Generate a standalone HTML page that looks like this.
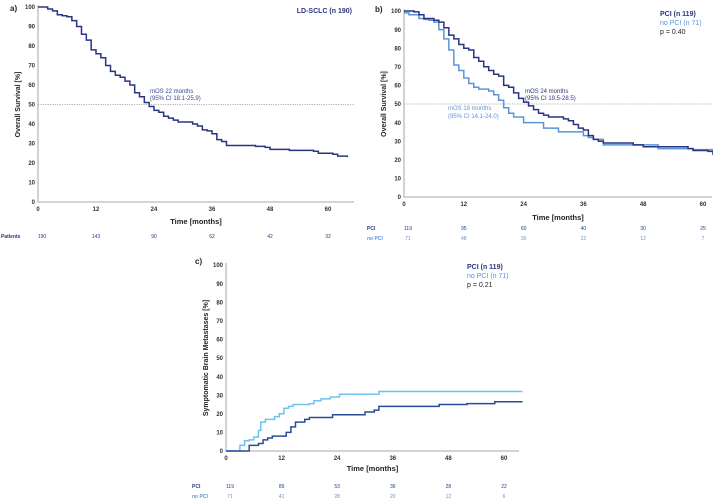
<!DOCTYPE html>
<html><head><meta charset="utf-8"><style>
body{margin:0;background:#fff}
svg{display:block;font-family:"Liberation Sans",Arial,sans-serif}
</style></head><body>
<svg id="c" width="713" height="499" viewBox="0 0 713 499"></svg>
<script>
const xTicks=[0,12,24,36,48,60];
const yTicks=[0,10,20,30,40,50,60,70,80,90,100];
// panel a
const aT=[0,2,3,4,5,6,7,8,9,10,11,12,13,14,15,16,17,18,19,20,21,22,23,24,25,26,27,28,29,31,32,33,34,35,36,37,38,39,44,45,47,48,52,57,58,61,62,64];
const aV=[100,99,98,96,95.5,95,93,90,86,83,78,76,74,70,67,65,64,62,60,56,54,51,49,47,46,44,43,42,41,41,40,39,37,36.5,35,32,31,29,29,28.5,28,27,26.5,26,25,24.5,23.5,23];
const aRisk=["190","143","90","62","42","32"];
// panel b
const bPciT=[0,2,3,4,6,7,8,9,10,11,12,13,14,15,16,17,18,19,20,21,22,23,24,25,26,27,28,29,31,32,33,34,35,36,37,38,39,40,45,46,48,56,57,58,61,62,64];
const bPciV=[100,99.5,98,96,95,94,91,87,85,82,80,79,75,73,70,68,66,65,60,59,56,53,51,49,47,45,44,43,43,42,41,39,37,36,33,31,30,29,29,28,27,27,26,25,24.5,23,22.5];
const bNoT=[0,1,3,4,5,6,7,8,9,10,11,12,13,14,15,17,18,19,20,21,22,24,28,31,35,36,37,38,40,50,51,58,64];
const bNoV=[99,98,96,95.5,95,94,90,85,79,71,68,64,61,59,58,57,55,52,48,45,43,40,37,35,35,33,32,31,28,28,26,25.5,25.5];
const bRiskPci=["119","95","60","40","30","25"];
const bRiskNo=["71","48","30","22","12","7"];
// panel c
const cPciT=[0,5,7,8,9,10,13,14,15,17,18,23,30,32,33,46,52,58,64];
const cPciV=[0,3,4,6,7,8,10,13,15.5,17,18,19.5,21,22,24,25,25.5,26.5,26.5];
const cNoT=[0,3,4,5,6,7,7.5,8.5,10.5,11.5,12.5,13.5,14.5,18,19,20.5,22.5,24.5,33,64];
const cNoV=[0,3,5.5,6,7.5,11,15.5,17,18.5,20,23,24,25,25.5,27,28,29,30.5,32,32];
const cRiskPci=["119","89","53","36","28","22"];
const cRiskNo=["71","41","28","20","12","6"];

const NS="http://www.w3.org/2000/svg";
const svg=document.getElementById('c');
function el(tag,attrs,parent,text){const e=document.createElementNS(NS,tag);for(const k in attrs)e.setAttribute(k,attrs[k]);if(text!==undefined)e.textContent=text;(parent||svg).appendChild(e);return e;}

function panel(p){
  const g=el('g',{});
  
  
  const X=t=>p.x0+t*p.sx, Y=v=>p.y0-v*p.sy;
  const lab=el('text',{x:p.lx,y:p.ly,'font-size':8,'font-weight':'bold',fill:'#222'},g,p.letter);
  
  const ax=el('path',{d:`M${p.x0},${Y(100)-2}V${p.y0}H${p.xEnd}`,stroke:'#bbb','stroke-width':1.3,fill:'none'},g);
  
  yTicks.forEach(v=>{const t=el('text',{x:p.x0-3,y:Y(v)+2.2,'font-size':6,'font-weight':'bold',fill:'#333','text-anchor':'end'},g,v);
    });
  xTicks.forEach(v=>{const t=el('text',{x:X(v),y:p.y0+9,'font-size':6,'font-weight':'bold',fill:'#333','text-anchor':'middle'},g,v);
    });
  const yt=el('text',{x:0,y:0,'font-size':7,'font-weight':'bold',fill:'#222','text-anchor':'middle',transform:`translate(${p.x0-18},${Y(50)}) rotate(-90)`},g,p.ytitle);
  
  const xt=el('text',{x:(p.x0+p.xEnd)/2,y:p.xty,'font-size':7.5,'font-weight':'bold',fill:'#222','text-anchor':'middle'},g,'Time [months]');
  
  if(p.median){const m=el('line',{x1:p.x0,x2:p.xEnd,y1:Y(50),y2:Y(50),stroke:'#999','stroke-width':0.8,'stroke-dasharray':'1.2,1.2'},g);
    }
  p.series.forEach(s=>{
    let d=`M${X(s.t[0])},${Y(s.v[0])}`;
    for(let i=1;i<s.t.length;i++){d+=`H${X(s.t[i])}V${Y(s.v[i])}`;}
    const path=el('path',{d,stroke:s.color,'stroke-width':1.5,fill:'none'},g);
    
  });
  p.texts.forEach(t=>{const e=el('text',{x:t.x,y:t.y,'font-size':t.fs||6,'font-weight':t.bold?'bold':'normal',fill:t.c,'text-anchor':t.a||'start'},g,t.s);
    });
  p.risk.forEach(r=>{
    const l=el('text',{x:r.lx,y:r.y,'font-size':5,'font-weight':'bold',fill:r.c},g,r.label);
    
    r.vals.forEach((v,i)=>{const e=el('text',{x:X(xTicks[i])+(i===0?4:0),y:r.y,'font-size':5,fill:r.c,'text-anchor':'middle'},g,v);
      });
  });
}
const dark='#2a3580', light='#5b95d8', cdark='#2b4c9a', clight='#6cc3ee';
panel({name:'panel-a',letter:'a)',lx:10,ly:11,x0:38,y0:202,sx:58/12,sy:1.95,xEnd:354,xty:224,median:true,ytitle:'Overall Survival [%]',
  series:[{t:aT,v:aV,color:dark,name:'survival-curve-all'}],
  texts:[{x:352,y:13,s:'LD-SCLC (n 190)',c:dark,bold:true,fs:7,a:'end',n:'cohort-label'},
    {x:150,y:93,s:'mOS 22 months',c:'#3a4590',n:'median-annotation'},{x:150,y:100,s:'(95% CI 18.1-25.9)',c:'#3a4590',n:'median-ci'}],
  risk:[{label:'Patients',lx:1,y:238,c:dark,vals:aRisk}]});
panel({name:'panel-b',letter:'b)',lx:375,ly:12,x0:404,y0:197,sx:59.8/12,sy:1.86,xEnd:712,xty:220,median:true,ytitle:'Overall Survival [%]',
  series:[{t:bNoT,v:bNoV,color:light,name:'survival-curve-no-pci'},{t:bPciT,v:bPciV,color:dark,name:'survival-curve-pci'}],
  texts:[{x:660,y:16,s:'PCI (n 119)',c:dark,bold:true,fs:7,n:'legend-pci'},{x:660,y:25,s:'no PCI (n 71)',c:light,fs:7,n:'legend-no-pci'},
    {x:660,y:34,s:'p = 0.40',c:'#222',fs:7,n:'p-value'},
    {x:525,y:93,s:'mOS 24 months',c:dark,n:'median-annotation-pci'},{x:525,y:100,s:'(95% CI 19.5-28.5)',c:dark,n:'median-ci-pci'},
    {x:448,y:110,s:'mOS 19 months',c:light,n:'median-annotation-no-pci'},{x:448,y:118,s:'(95% CI 14.1-24.0)',c:light,n:'median-ci-no-pci'}],
  risk:[{label:'PCI',lx:367,y:230,c:dark,vals:bRiskPci},{label:'no PCI',lx:367,y:240,c:light,vals:bRiskNo}]});
panel({name:'panel-c',letter:'c)',lx:195,ly:264,x0:226,y0:451,sx:55.6/12,sy:1.86,xEnd:519,xty:471,median:false,ytitle:'Symptomatic Brain Metastases [%]',
  series:[{t:cNoT,v:cNoV,color:clight,name:'incidence-curve-no-pci'},{t:cPciT,v:cPciV,color:cdark,name:'incidence-curve-pci'}],
  texts:[{x:467,y:269,s:'PCI (n 119)',c:dark,bold:true,fs:7,n:'legend-pci'},{x:467,y:278,s:'no PCI (n 71)',c:light,fs:7,n:'legend-no-pci'},
    {x:467,y:287,s:'p = 0.21',c:'#222',fs:7,n:'p-value'}],
  risk:[{label:'PCI',lx:192,y:488,c:dark,vals:cRiskPci},{label:'no PCI',lx:192,y:498,c:light,vals:cRiskNo}]});
</script>
</body></html>
